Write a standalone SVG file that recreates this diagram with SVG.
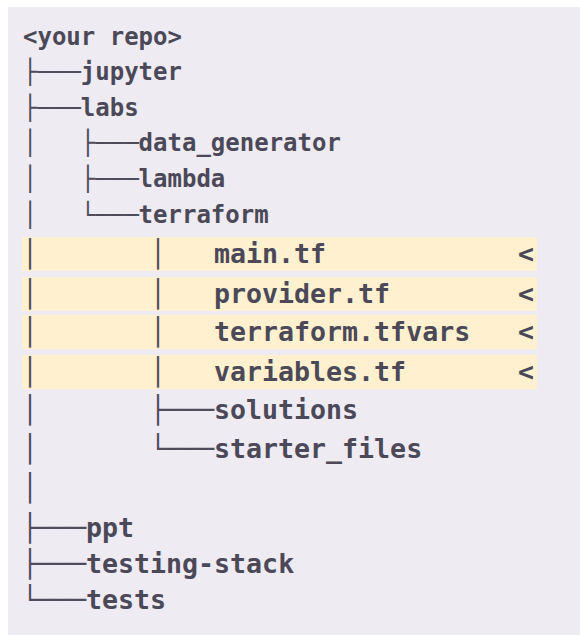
<svg xmlns="http://www.w3.org/2000/svg" width="580" height="635" viewBox="0 0 580 635">
  <style>
    .page { fill: #ffffff; }
    .panel { fill: #eeebf3; }
    .mark { fill: #fff1cf; }
    text { font-family: "DejaVu Sans Mono", "Liberation Mono", monospace; font-weight: bold; fill: #4b4958; white-space: pre; }
    .sm { font-size: 24px; }
    .lg { font-size: 26.6px; }
    .tree { font-weight: normal; fill: #4f4d5c; }
  </style>

  <rect class="page" x="0" y="0" width="580" height="635"/>
  <rect class="panel" x="8" y="7" width="572" height="628"/>

  <!-- highlighted file rows -->
  <g id="highlights">
    <rect class="mark" x="22" y="237" width="515" height="34"/>
    <rect class="mark" x="22" y="277" width="515" height="34"/>
    <rect class="mark" x="22" y="315" width="515" height="34"/>
    <rect class="mark" x="22" y="355" width="515" height="34"/>
  </g>

  <!-- tree-drawing characters -->
  <g id="connectors">
    <text class="tree sm" x="23" y="80">├───</text>
    <text class="tree sm" x="23" y="116">├───</text>
    <text class="tree sm" x="23" y="151">│   ├───</text>
    <text class="tree sm" x="23" y="187">│   ├───</text>
    <text class="tree sm" x="23" y="223">│   └───</text>
    <text class="tree lg" x="22" y="263">│       │</text>
    <text class="tree lg" x="22" y="303">│       │</text>
    <text class="tree lg" x="22" y="341">│       │</text>
    <text class="tree lg" x="22" y="381">│       │</text>
    <text class="tree lg" x="22" y="419">│       ├───</text>
    <text class="tree lg" x="22" y="458">│       └───</text>
    <text class="tree lg" x="22" y="497">│</text>
    <text class="tree lg" x="22" y="537">├───</text>
    <text class="tree lg" x="22" y="573">├───</text>
    <text class="tree lg" x="22" y="609">└───</text>
  </g>

  <g id="root"><text class="sm" x="23" y="45">&lt;your repo&gt;</text></g>
  <g id="jupyter"><text class="sm" x="80.8" y="80">jupyter</text></g>
  <g id="labs"><text class="sm" x="80.8" y="116">labs</text></g>
  <g id="data_generator"><text class="sm" x="138.6" y="151">data_generator</text></g>
  <g id="lambda"><text class="sm" x="138.6" y="187">lambda</text></g>
  <g id="terraform"><text class="sm" x="138.6" y="223">terraform</text></g>
  <g id="main_tf"><text class="lg" x="214" y="263">main.tf</text><text class="lg" x="518" y="263">&lt;</text></g>
  <g id="provider_tf"><text class="lg" x="214" y="303">provider.tf</text><text class="lg" x="518" y="303">&lt;</text></g>
  <g id="terraform_tfvars"><text class="lg" x="214" y="341">terraform.tfvars</text><text class="lg" x="518" y="341">&lt;</text></g>
  <g id="variables_tf"><text class="lg" x="214" y="381">variables.tf</text><text class="lg" x="518" y="381">&lt;</text></g>
  <g id="solutions"><text class="lg" x="214" y="419">solutions</text></g>
  <g id="starter_files"><text class="lg" x="214" y="458">starter_files</text></g>
  <g id="ppt"><text class="lg" x="86" y="537">ppt</text></g>
  <g id="testing_stack"><text class="lg" x="86" y="573">testing-stack</text></g>
  <g id="tests"><text class="lg" x="86" y="609">tests</text></g>
</svg>
